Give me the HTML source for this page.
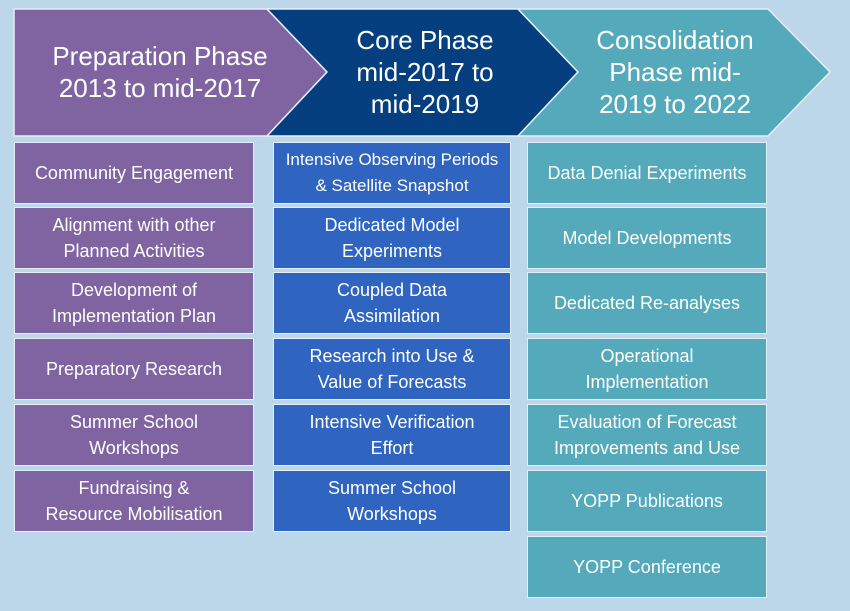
<!DOCTYPE html>
<html><head><meta charset="utf-8"><style>
body{margin:0;width:850px;height:611px;background:#bcd6ea;position:relative;overflow:hidden;font-family:"Liberation Sans",sans-serif;}
svg{position:absolute;left:0;top:0}
.b{position:absolute;height:62px;display:flex;align-items:center;justify-content:center;text-align:center;color:#fff;font-size:18px;line-height:26px;border:1.5px solid #e4eef7;box-sizing:border-box;white-space:nowrap}
.p{background:#8064a2;left:14px;width:240px}
.c{background:#2f64c0;left:273px;width:238px}
.t{background:#54a9bb;left:527px;width:240px}
.h{position:absolute;color:#fff;text-align:center;font-size:26px;line-height:32px}
</style></head><body>
<svg width="850" height="611">
<polygon points="14,9 267,9 327,72 267,136 14,136" fill="#8064a2" stroke="#e4eef7" stroke-width="1.5"/>
<polygon points="267,9 518,9 578,72 518,136 267,136 327,72" fill="#063f80" stroke="#e4eef7" stroke-width="1.5"/>
<polygon points="518,9 768,9 830,72 768,136 518,136 578,72" fill="#54a9bb" stroke="#e4eef7" stroke-width="1.5"/>
</svg>
<div class="h" style="left:10px;width:300px;top:40px">Preparation Phase<br>2013 to mid-2017</div>
<div class="h" style="left:290px;width:270px;top:24px">Core Phase<br>mid-2017 to<br>mid-2019</div>
<div class="h" style="left:540px;width:270px;top:24px">Consolidation<br>Phase mid-<br>2019 to 2022</div>

<div class="b p" style="top:142px">Community Engagement</div>
<div class="b p" style="top:207px">Alignment with other<br>Planned Activities</div>
<div class="b p" style="top:272px">Development of<br>Implementation Plan</div>
<div class="b p" style="top:338px">Preparatory Research</div>
<div class="b p" style="top:404px">Summer School<br>Workshops</div>
<div class="b p" style="top:470px">Fundraising &amp;<br>Resource Mobilisation</div>

<div class="b c" style="top:142px;font-size:17px">Intensive Observing Periods<br>&amp; Satellite Snapshot</div>
<div class="b c" style="top:207px">Dedicated Model<br>Experiments</div>
<div class="b c" style="top:272px">Coupled Data<br>Assimilation</div>
<div class="b c" style="top:338px">Research into Use &amp;<br>Value of Forecasts</div>
<div class="b c" style="top:404px">Intensive Verification<br>Effort</div>
<div class="b c" style="top:470px">Summer School<br>Workshops</div>

<div class="b t" style="top:142px">Data Denial Experiments</div>
<div class="b t" style="top:207px">Model Developments</div>
<div class="b t" style="top:272px">Dedicated Re-analyses</div>
<div class="b t" style="top:338px">Operational<br>Implementation</div>
<div class="b t" style="top:404px">Evaluation of Forecast<br>Improvements and Use</div>
<div class="b t" style="top:470px">YOPP Publications</div>
<div class="b t" style="top:536px">YOPP Conference</div>
</body></html>
